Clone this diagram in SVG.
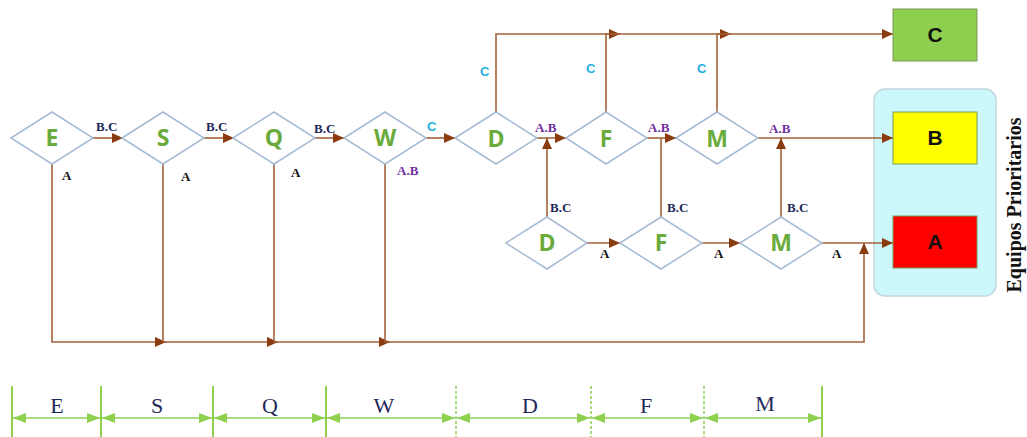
<svg xmlns="http://www.w3.org/2000/svg" width="1027" height="437" viewBox="0 0 1027 437">
<defs>
<marker id="ar" markerUnits="userSpaceOnUse" markerWidth="12" markerHeight="10" refX="11" refY="5" orient="auto">
<path d="M0,0 L11,5 L0,10 Z" fill="#8a3c10"/>
</marker>
<marker id="ga" markerUnits="userSpaceOnUse" markerWidth="14" markerHeight="10" refX="13" refY="5" orient="auto-start-reverse">
<path d="M0,0 L13,5 L0,10 Z" fill="#8fd14f"/>
</marker>
</defs>
<style>
.dia{fill:#fff;stroke:#a6bcd4;stroke-width:1.5}
.dl{font-family:"Open Sans","Liberation Sans",sans-serif;font-weight:bold;font-size:23px;fill:#6aab3c;text-anchor:middle}
.c{fill:none;stroke:#a3623a;stroke-width:1.6}
.ca{fill:none;stroke:#a3623a;stroke-width:1.6;marker-end:url(#ar)}
.lb{font-family:"Liberation Serif",serif;font-weight:bold;font-size:13px}
.bc{fill:#1f2a5a}
.ab{fill:#7030a0}
.cc{fill:#1fb0e0;font-family:"Liberation Sans",sans-serif}
.aa{fill:#111}
.box{stroke:#7a9a5a;stroke-width:1}
.bl{font-family:"Liberation Sans",sans-serif;font-weight:bold;font-size:21px;fill:#111;text-anchor:middle}
.sc{stroke:#8fd14f;stroke-width:2}
.scd{stroke:#8fd14f;stroke-width:1.5;stroke-dasharray:3,2}
.sa{stroke:#8fd14f;stroke-width:1.5;marker-start:url(#ga);marker-end:url(#ga)}
.st{font-family:"Liberation Serif",serif;font-size:22px;fill:#1f2a5a;text-anchor:middle}
</style>

<rect x="0" y="0" width="1027" height="437" fill="#fff"/>

<g id="container">
<rect x="874" y="89" width="122" height="207" rx="11" fill="#ccf8fc" stroke="#c2d6dc" stroke-width="1.5"/>
</g>

<g id="connectors">
<path class="ca" d="M93,138 H123"/>
<path class="ca" d="M204,138 H234"/>
<path class="ca" d="M315,138 H344"/>
<path class="ca" d="M426,138 H455"/>
<path class="ca" d="M537,138 H566"/>
<path class="ca" d="M647,138 H676"/>
<path class="ca" d="M758,138 H893"/>
<path class="ca" d="M496,112 V34 H620"/>
<path class="c" d="M606,112 V34"/>
<path class="ca" d="M606,34 H731"/>
<path class="c" d="M717,112 V34"/>
<path class="ca" d="M717,34 H893"/>
<path class="ca" d="M547,217 V138"/>
<path class="c" d="M661,217 V138"/>
<path class="ca" d="M781,217 V138"/>
<path class="ca" d="M587,243 H620"/>
<path class="ca" d="M702,243 H740"/>
<path class="ca" d="M822,243 H893"/>
<path class="ca" d="M52,164 V342 H166"/>
<path class="c" d="M163,164 V342"/>
<path class="ca" d="M163,342 H278"/>
<path class="c" d="M274,164 V342"/>
<path class="ca" d="M274,342 H390"/>
<path class="c" d="M385,164 V342"/>
<path class="ca" d="M385,342 H864 V243"/>
</g>

<g id="labels">
<text class="lb bc" x="96" y="131">B.C</text>
<text class="lb bc" x="206" y="131">B.C</text>
<text class="lb bc" x="314" y="133">B.C</text>
<text class="lb cc" x="427" y="131">C</text>
<text class="lb aa" x="62" y="180">A</text>
<text class="lb aa" x="181" y="181">A</text>
<text class="lb aa" x="291" y="177">A</text>
<text class="lb ab" x="397" y="175">A.B</text>
<text class="lb ab" x="535" y="132">A.B</text>
<text class="lb ab" x="648" y="132">A.B</text>
<text class="lb ab" x="769" y="133">A.B</text>
<text class="lb cc" x="480" y="76">C</text>
<text class="lb cc" x="586" y="73">C</text>
<text class="lb cc" x="697" y="73">C</text>
<text class="lb bc" x="550" y="212">B.C</text>
<text class="lb bc" x="667" y="212">B.C</text>
<text class="lb bc" x="787" y="212">B.C</text>
<text class="lb aa" x="600" y="258">A</text>
<text class="lb aa" x="714" y="258">A</text>
<text class="lb aa" x="832" y="258">A</text>
</g>

<g id="node-E"><path class="dia" d="M11,138 L52,112 L93,138 L52,164 Z"/><text class="dl" x="52" y="146">E</text></g>
<g id="node-S"><path class="dia" d="M122,138 L163,112 L204,138 L163,164 Z"/><text class="dl" x="163" y="146">S</text></g>
<g id="node-Q"><path class="dia" d="M233,138 L274,112 L315,138 L274,164 Z"/><text class="dl" x="274" y="146">Q</text></g>
<g id="node-W"><path class="dia" d="M344,138 L385,112 L426,138 L385,164 Z"/><text class="dl" x="385" y="146">W</text></g>
<g id="node-D1"><path class="dia" d="M455,138 L496,112 L537,138 L496,164 Z"/><text class="dl" x="496" y="147">D</text></g>
<g id="node-F1"><path class="dia" d="M566,138 L606,112 L647,138 L606,164 Z"/><text class="dl" x="606" y="147">F</text></g>
<g id="node-M1"><path class="dia" d="M676,138 L717,112 L758,138 L717,164 Z"/><text class="dl" x="717" y="147">M</text></g>
<g id="node-D2"><path class="dia" d="M506,243 L547,217 L587,243 L547,269 Z"/><text class="dl" x="547" y="251">D</text></g>
<g id="node-F2"><path class="dia" d="M620,243 L661,217 L702,243 L661,269 Z"/><text class="dl" x="661" y="251">F</text></g>
<g id="node-M2"><path class="dia" d="M740,243 L781,217 L822,243 L781,269 Z"/><text class="dl" x="781" y="251">M</text></g>

<g id="node-C"><rect class="box" x="893" y="9" width="84" height="52" fill="#8fcf50"/><text class="bl" x="935" y="42">C</text></g>
<g id="node-B"><rect class="box" x="893" y="112" width="84" height="52" fill="#ffff00"/><text class="bl" x="935" y="145">B</text></g>
<g id="node-A"><rect class="box" x="893" y="216" width="84" height="52" fill="#ff0000"/><text class="bl" x="935" y="249">A</text></g>

<g id="side-label">
<text x="0" y="0" transform="translate(1021,205) rotate(-90)" font-family="Liberation Serif,serif" font-weight="bold" font-size="20" fill="#111" text-anchor="middle">Equipos Prioritarios</text>
</g>

<g id="scale">
<line class="sc" x1="12" y1="386" x2="12" y2="437"/>
<line class="sc" x1="101" y1="386" x2="101" y2="437"/>
<line class="sc" x1="213" y1="386" x2="213" y2="437"/>
<line class="sc" x1="326" y1="386" x2="326" y2="437"/>
<line class="scd" x1="456" y1="386" x2="456" y2="437"/>
<line class="scd" x1="591" y1="386" x2="591" y2="437"/>
<line class="scd" x1="704" y1="386" x2="704" y2="437"/>
<line class="sc" x1="822" y1="386" x2="822" y2="437"/>
<line class="sa" x1="13" y1="418" x2="100" y2="418"/>
<line class="sa" x1="102" y1="418" x2="212" y2="418"/>
<line class="sa" x1="214" y1="418" x2="325" y2="418"/>
<line class="sa" x1="327" y1="418" x2="455" y2="418"/>
<line class="sa" x1="457" y1="418" x2="590" y2="418"/>
<line class="sa" x1="592" y1="418" x2="703" y2="418"/>
<line class="sa" x1="705" y1="418" x2="821" y2="418"/>
<text class="st" x="57" y="413">E</text>
<text class="st" x="157" y="413">S</text>
<text class="st" x="270" y="413">Q</text>
<text class="st" x="384" y="413">W</text>
<text class="st" x="530" y="413">D</text>
<text class="st" x="646" y="413">F</text>
<text class="st" x="765" y="411">M</text>
</g>
</svg>
